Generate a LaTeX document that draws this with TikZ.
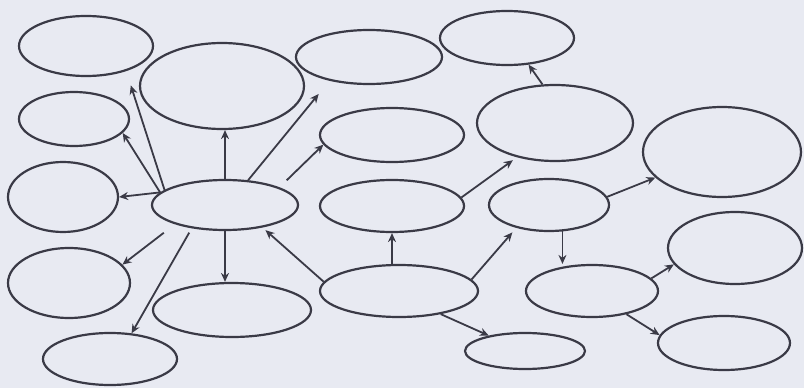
\documentclass[tikz,border=0pt]{standalone}
\usetikzlibrary{shapes.geometric,arrows.meta}
\definecolor{paper}{RGB}{232,234,242}
\definecolor{ink}{RGB}{58,58,70}
\tikzset{
  ell/.style={ellipse, draw=ink, line width=2.2pt, inner sep=0pt},
  arr/.style={draw=ink, line width=1.8pt, -{Stealth[length=9pt,width=8pt]}}
}
\begin{document}
\begin{tikzpicture}[x=1pt,y=-1pt]
\fill[paper] (0,0) rectangle (804,388);
\useasboundingbox (0,0) rectangle (804,388);
% ellipses
\node[ell, minimum width=134pt, minimum height=60pt] (A) at (86,46) {};
\node[ell, minimum width=164pt, minimum height=86pt] (B) at (222,86) {};
\node[ell, minimum width=110pt, minimum height=54pt] (C) at (74,119) {};
\node[ell, minimum width=110pt, minimum height=70pt] (D) at (63,197) {};
\node[ell, minimum width=146pt, minimum height=50pt] (E) at (225,205) {};
\node[ell, minimum width=122pt, minimum height=70pt] (F) at (69,283) {};
\node[ell, minimum width=134pt, minimum height=52pt] (G) at (110,359) {};
\node[ell, minimum width=158pt, minimum height=54pt] (H) at (232,310) {};
\node[ell, minimum width=146pt, minimum height=54pt] (I) at (369,57) {};
\node[ell, minimum width=134pt, minimum height=54pt] (J) at (507,38) {};
\node[ell, minimum width=144pt, minimum height=54pt] (K) at (392,135) {};
\node[ell, minimum width=156pt, minimum height=76pt] (L) at (555,123) {};
\node[ell, minimum width=144pt, minimum height=52pt] (M) at (392,206) {};
\node[ell, minimum width=120pt, minimum height=52pt] (N) at (549,205) {};
\node[ell, minimum width=158pt, minimum height=90pt] (O) at (722,152) {};
\node[ell, minimum width=158pt, minimum height=52pt] (P) at (399,291) {};
\node[ell, minimum width=120pt, minimum height=36pt] (Q) at (525,351) {};
\node[ell, minimum width=132pt, minimum height=52pt] (R) at (592,291) {};
\node[ell, minimum width=134pt, minimum height=72pt] (S) at (735,248) {};
\node[ell, minimum width=132pt, minimum height=54pt] (T) at (724,343) {};
% connectors from E
\draw[arr, shorten >=15pt] (E.166) -- (A.-32);
\draw[arr] (E.169) -- (C.-16);
\draw[arr] (E.169) -- (D.east);
\draw[arr] (E.north) -- (E.north |- B.south);
\draw[arr, shorten >=17pt] (E.47) -- (I.211);
\draw[arr, shorten <=10pt] (E.18) -- (K.188);
\draw[arr, shorten <=14pt] (E.201) -- (F.19);
\draw[arr, shorten <=5pt] (E.215) -- (G.50);
\draw[arr] (E.south) -- (E.south |- H.north);
% connectors from P
\draw[arr, shorten >=4pt] (P.173) -- (E.-31);
\draw[arr] (M.south |- P.north) -- (M.south);
\draw[arr, shorten >=6pt] (P.9) -- (N.215);
\draw[arr] (P.-29) -- (Q.157);
% others
\draw[arr, shorten >=5pt] (M.7) -- (L.222);
\draw[arr] (L.108) -- (J.-51);
\draw[arr] (N.8) -- (O.201);
\draw[arr] (N.-63) -- (N.-63 |- R.north);
\draw[arr] (R.12) -- (S.195);
\draw[arr] (R.-34) -- (T.173);
\end{tikzpicture}
\end{document}
